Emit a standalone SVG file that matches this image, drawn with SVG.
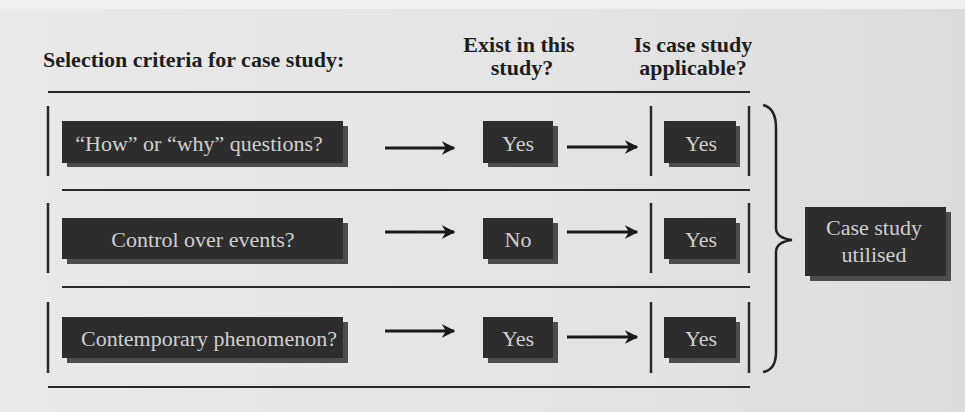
<svg xmlns="http://www.w3.org/2000/svg" width="965" height="412" viewBox="0 0 965 412">
  <defs>
    <linearGradient id="bg" x1="0" y1="0" x2="1" y2="0">
      <stop offset="0" stop-color="#e9e9e9"/>
      <stop offset="0.6" stop-color="#e4e4e4"/>
      <stop offset="1" stop-color="#dcdcdc"/>
    </linearGradient>
    <marker id="arrow" viewBox="0 0 10 10" refX="9" refY="5" markerWidth="4.5" markerHeight="4.5" orient="auto" markerUnits="strokeWidth">
      <path d="M0,0 L10,5 L0,10 L3,5 Z" fill="#1a1a1a"/>
    </marker>
  </defs>
  <style>
    .head { font-family: "Liberation Serif", "Times New Roman", serif; font-weight: bold; font-size: 22px; fill: #1e1e1e; }
    .lbl { font-family: "Liberation Serif", "Times New Roman", serif; font-size: 22px; fill: #cfcfcf; text-anchor: middle; }
    .box { fill: #2d2d2d; }
    .shadow { fill: #4d4d4d; }
    .rule { stroke: #2a2a2a; stroke-width: 2; fill: none; }
    .bar { stroke: #2a2a2a; stroke-width: 2.5; fill: none; }
    .conn { stroke: #1a1a1a; stroke-width: 3; fill: none; marker-end: url(#arrow); }
  </style>

  <rect x="0" y="0" width="965" height="412" fill="url(#bg)"/>
  <rect x="0" y="0" width="965" height="9" fill="#efefef"/>

  <!-- column headings -->
  <text class="head" x="43" y="67">Selection criteria for case study:</text>
  <text class="head" x="519" y="52" text-anchor="middle">Exist in this</text>
  <text class="head" x="522" y="75" text-anchor="middle">study?</text>
  <text class="head" x="693" y="52" text-anchor="middle">Is case study</text>
  <text class="head" x="693" y="75" text-anchor="middle">applicable?</text>

  <!-- table rules and side bars -->
  <g id="table">
    <line class="rule" x1="48" y1="92" x2="750" y2="92"/>
    <line class="rule" x1="62" y1="190" x2="750" y2="190"/>
    <line class="rule" x1="62" y1="287" x2="750" y2="287"/>
    <line class="rule" x1="48" y1="387" x2="750" y2="387"/>
    <line class="bar" x1="48" y1="106" x2="48" y2="176"/>
    <line class="bar" x1="48" y1="203" x2="48" y2="273"/>
    <line class="bar" x1="48" y1="302" x2="48" y2="373"/>
    <line class="bar" x1="651" y1="106" x2="651" y2="176"/>
    <line class="bar" x1="749" y1="106" x2="749" y2="176"/>
    <line class="bar" x1="651" y1="203" x2="651" y2="273"/>
    <line class="bar" x1="749" y1="203" x2="749" y2="273"/>
    <line class="bar" x1="651" y1="302" x2="651" y2="373"/>
    <line class="bar" x1="749" y1="302" x2="749" y2="373"/>
  </g>

  <!-- row 1 -->
  <g id="criterion-how-why">
    <rect class="shadow" x="67" y="126" width="281" height="41"/>
    <rect class="box" x="62" y="121" width="281" height="42"/>
    <text class="lbl" x="199" y="151">“How” or “why” questions?</text>
  </g>
  <g id="exist-how-why">
    <rect class="shadow" x="488" y="126" width="70" height="41"/>
    <rect class="box" x="483" y="121" width="70" height="42"/>
    <text class="lbl" x="518" y="151">Yes</text>
  </g>
  <g id="applicable-how-why">
    <rect class="shadow" x="669" y="126" width="71" height="41"/>
    <rect class="box" x="664" y="121" width="72" height="42"/>
    <text class="lbl" x="701" y="151">Yes</text>
  </g>

  <!-- row 2 -->
  <g id="criterion-control">
    <rect class="shadow" x="67" y="223" width="281" height="41"/>
    <rect class="box" x="62" y="218" width="281" height="41"/>
    <text class="lbl" x="203" y="247">Control over events?</text>
  </g>
  <g id="exist-control">
    <rect class="shadow" x="488" y="223" width="70" height="41"/>
    <rect class="box" x="483" y="218" width="70" height="41"/>
    <text class="lbl" x="518" y="247">No</text>
  </g>
  <g id="applicable-control">
    <rect class="shadow" x="669" y="223" width="71" height="41"/>
    <rect class="box" x="664" y="218" width="72" height="41"/>
    <text class="lbl" x="701" y="247">Yes</text>
  </g>

  <!-- row 3 -->
  <g id="criterion-contemporary">
    <rect class="shadow" x="67" y="322" width="281" height="41"/>
    <rect class="box" x="62" y="317" width="281" height="41"/>
    <text class="lbl" x="209" y="346">Contemporary phenomenon?</text>
  </g>
  <g id="exist-contemporary">
    <rect class="shadow" x="488" y="322" width="70" height="41"/>
    <rect class="box" x="483" y="317" width="70" height="41"/>
    <text class="lbl" x="518" y="346">Yes</text>
  </g>
  <g id="applicable-contemporary">
    <rect class="shadow" x="669" y="322" width="71" height="41"/>
    <rect class="box" x="664" y="317" width="72" height="41"/>
    <text class="lbl" x="701" y="346">Yes</text>
  </g>

  <!-- outcome -->
  <g id="case-study-utilised">
    <rect class="shadow" x="810" y="212" width="141" height="69"/>
    <rect class="box" x="805" y="207" width="141" height="69"/>
    <text class="lbl" x="874" y="235">Case study</text>
    <text class="lbl" x="874" y="262">utilised</text>
  </g>

  <!-- connectors -->
  <g id="connectors">
    <line class="conn" x1="385" y1="148" x2="454" y2="148"/>
    <line class="conn" x1="385" y1="232" x2="454" y2="232"/>
    <line class="conn" x1="385" y1="331" x2="454" y2="331"/>
    <line class="conn" x1="567" y1="147" x2="637" y2="147"/>
    <line class="conn" x1="567" y1="232" x2="637" y2="232"/>
    <line class="conn" x1="567" y1="337" x2="637" y2="337"/>
    <path d="M763,105 Q776,108 776,128 L776,228 Q776,238 792,240 Q776,242 776,252 L776,352 Q776,370 763,372" fill="none" stroke="#222" stroke-width="2.5"/>
  </g>
</svg>
